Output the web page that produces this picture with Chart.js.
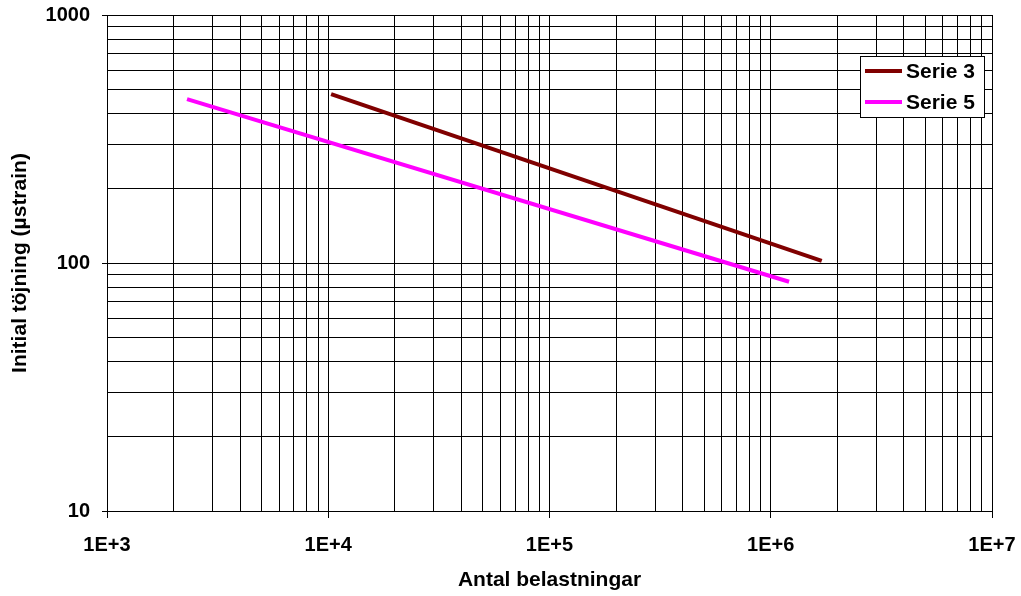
<!DOCTYPE html>
<html>
<head>
<meta charset="utf-8">
<script src="https://cdn.jsdelivr.net/npm/chart.js@4/dist/chart.umd.min.js"></script>
<style>
	html, body { margin: 0; padding: 0; background: #fff; }
	#wrap { width: 1021px; height: 596px; }
</style>
</head>
<body>
<div id="wrap"><canvas id="chart"></canvas></div>
<script>
// series data (load repetitions vs initial strain)
const seriesNames = ['Serie 3', 'Serie 5'];
const serie3X = [10300, 1700000];
const serie3Y = [480, 102];
const serie5X = [2300, 1210000];
const serie5Y = [458, 84];

// axis ranges
const xDecades = [1e3, 1e4, 1e5, 1e6, 1e7];
const yDecades = [10, 100, 1000];

const FONT = "'Liberation Sans', Arial, sans-serif";

function logTicks(decades) {
	const out = [];
	for (let i = 0; i < decades.length; i++) {
		out.push({ value: decades[i] });
		if (i < decades.length - 1) {
			for (let m = 2; m <= 9; m++) out.push({ value: decades[i] * m });
		}
	}
	return out;
}

const isMajor = v => Math.abs(Math.log10(v) - Math.round(Math.log10(v))) < 1e-9;

const toPoints = (xs, ys) => xs.map((x, i) => ({ x, y: ys[i] }));

// no extra room for label overhang, the layout padding handles it
function noScalePadding(s) {
	s.paddingLeft = 0;
	s.paddingRight = 0;
	s.paddingTop = 0;
	s.paddingBottom = 0;
}

// legend box drawn inside the plot, top right
const boxLegend = {
	id: 'boxLegend',
	afterDraw(chart) {
		const ctx = chart.ctx;
		const x = 860, y = 56, w = 124, h = 61;
		ctx.save();
		ctx.fillStyle = '#fff';
		ctx.fillRect(x, y, w, h);
		ctx.strokeStyle = '#000';
		ctx.lineWidth = 1;
		ctx.strokeRect(x + 0.5, y + 0.5, w, h);
		chart.data.datasets.forEach((ds, i) => {
			const cy = y + 15 + i * 31;
			ctx.strokeStyle = ds.borderColor;
			ctx.lineWidth = 4;
			ctx.beginPath();
			ctx.moveTo(x + 5, cy);
			ctx.lineTo(x + 42, cy);
			ctx.stroke();
			ctx.fillStyle = '#000';
			ctx.font = 'bold 21px ' + FONT;
			ctx.textBaseline = 'middle';
			ctx.fillText(ds.label, x + 46, cy + 1);
		});
		ctx.restore();
	}
};

function main() {
	const tickFont = { family: FONT, size: 20, weight: 'bold' };
	const titleFont = { family: FONT, size: 21, weight: 'bold' };

	new Chart(document.getElementById('chart'), {
		type: 'line',
		data: {
			datasets: [
				{
					label: seriesNames[0],
					data: toPoints(serie3X, serie3Y),
					borderColor: '#800000',
					borderWidth: 4,
					pointRadius: 0
				},
				{
					label: seriesNames[1],
					data: toPoints(serie5X, serie5Y),
					borderColor: '#FF00FF',
					borderWidth: 4,
					pointRadius: 0
				}
			]
		},
		options: {
			responsive: true,
			maintainAspectRatio: false,
			animation: false,
			layout: { padding: { top: 15, right: 29, left: 0, bottom: 0 } },
			plugins: {
				legend: { display: false },
				tooltip: { enabled: false }
			},
			scales: {
				x: {
					type: 'logarithmic',
					min: xDecades[0],
					max: xDecades[xDecades.length - 1],
					afterBuildTicks: s => { s.ticks = logTicks(xDecades); },
					afterFit: s => { s.height = 85; noScalePadding(s); },
					border: { color: '#000', width: 1 },
					grid: {
						color: '#000',
						lineWidth: 1,
						tickLength: 7,
						tickColor: c => (c.tick && isMajor(c.tick.value) ? '#000' : 'rgba(0,0,0,0)')
					},
					ticks: {
						autoSkip: false,
						maxRotation: 0,
						color: '#000',
						font: tickFont,
						padding: 15,
						callback: v => (isMajor(v) ? '1E+' + Math.round(Math.log10(v)) : '')
					},
					title: {
						display: true,
						text: 'Antal belastningar',
						color: '#000',
						font: titleFont,
						padding: { top: 4, bottom: 3 }
					}
				},
				y: {
					type: 'logarithmic',
					min: yDecades[0],
					max: yDecades[yDecades.length - 1],
					afterBuildTicks: s => { s.ticks = logTicks(yDecades); },
					afterFit: s => { s.width = 107; noScalePadding(s); },
					border: { color: '#000', width: 1 },
					grid: {
						color: '#000',
						lineWidth: 1,
						tickLength: 5,
						tickColor: c => (c.tick && isMajor(c.tick.value) ? '#000' : 'rgba(0,0,0,0)')
					},
					ticks: {
						autoSkip: false,
						color: '#000',
						font: tickFont,
						padding: 12,
						callback: v => (isMajor(v) ? String(Math.round(v)) : '')
					},
					title: {
						display: true,
						text: 'Initial töjning (µstrain)',
						color: '#000',
						font: titleFont,
						padding: { top: 8, bottom: 0 }
					}
				}
			}
		},
		plugins: [boxLegend]
	});
}

document.addEventListener('DOMContentLoaded', main);
</script>
</body>
</html>
